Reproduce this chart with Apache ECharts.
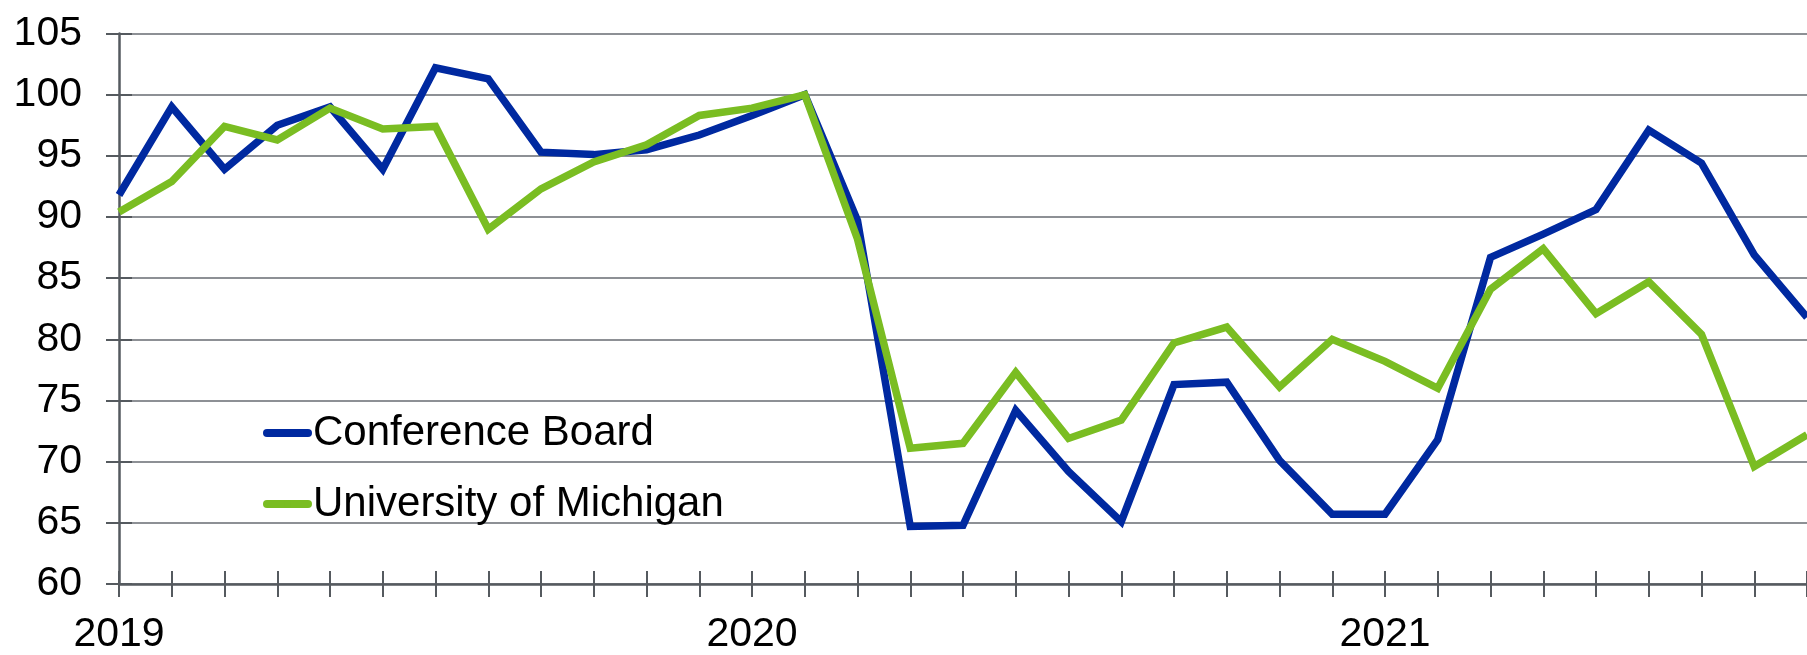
<!DOCTYPE html>
<html>
<head>
<meta charset="utf-8">
<script src="https://cdn.jsdelivr.net/npm/echarts@6/dist/echarts.min.js"></script>
<style>
  html, body { margin: 0; padding: 0; background: #fff; }
  #chart { width: 1807px; height: 655px; }
</style>
</head>
<body>
<div id="chart"></div>
<script>
// monthly index, Feb 2020 = 100
const months = [
  '2019-01', '2019-02', '2019-03', '2019-04', '2019-05', '2019-06',
  '2019-07', '2019-08', '2019-09', '2019-10', '2019-11', '2019-12',
  '2020-01', '2020-02', '2020-03', '2020-04', '2020-05', '2020-06',
  '2020-07', '2020-08', '2020-09', '2020-10', '2020-11', '2020-12',
  '2021-01', '2021-02', '2021-03', '2021-04', '2021-05', '2021-06',
  '2021-07', '2021-08', '2021-09'
];
const conferenceBoard = [
  91.8, 99.0, 93.9, 97.5, 99.0, 93.9, 102.2, 101.3, 95.3, 95.1, 95.5, 96.7,
  98.3, 100.0, 89.7, 64.7, 64.8, 74.2, 69.2, 65.1, 76.3, 76.5, 70.1, 65.7,
  65.7, 71.8, 86.7, 88.6, 90.6, 97.1, 94.4, 86.9, 81.8
];
const michigan = [
  90.4, 92.9, 97.4, 96.3, 98.9, 97.2, 97.4, 89.0, 92.3, 94.5, 95.9, 98.3,
  98.9, 100.0, 88.2, 71.1, 71.5, 77.3, 71.9, 73.4, 79.7, 81.0, 76.1, 80.0,
  78.2, 76.0, 84.1, 87.4, 82.1, 84.7, 80.4, 69.6, 72.2
];
const seriesNames = ['Conference Board', 'University of Michigan'];
const yMin = 60, yMax = 105, yStep = 5;

const font = 'Arial, "Liberation Sans", sans-serif';
const axisColor = '#555a5f';
const gridColor = '#8d9095';

const chart = echarts.init(document.getElementById('chart'));

const isYearStart = (idx, val) => val.endsWith('-01');

chart.setOption({
  animation: false,
  grid: { left: 119, right: -14, top: 33.5, bottom: 69.5, containLabel: false },
  legend: {
    orient: 'vertical',
    left: 258,
    top: 407,
    itemWidth: 41,
    itemHeight: 8,
    itemGap: 29,
    lineStyle: { width: 8, cap: 'round' },
    textStyle: { fontSize: 42, fontFamily: font, color: '#000' },
    data: seriesNames
  },
  xAxis: [{
    type: 'category',
    data: months,
    boundaryGap: false,
    axisLine: { lineStyle: { color: axisColor, width: 2.5 } },
    axisTick: { interval: 0, length: 13, lineStyle: { color: axisColor, width: 2 } },
    axisLabel: {
      interval: isYearStart,
      formatter: (v) => v.slice(0, 4),
      fontSize: 41, fontFamily: font, color: '#000', margin: 30
    },
    splitLine: { show: false }
  }, {
    type: 'category',
    data: months,
    position: 'bottom',
    boundaryGap: false,
    axisLine: { show: false },
    axisTick: { inside: true, interval: 0, length: 13, lineStyle: { color: axisColor, width: 2 } },
    axisLabel: { show: false },
    splitLine: { show: false }
  }],
  yAxis: [{
    type: 'value',
    min: yMin, max: yMax, interval: yStep,
    axisLine: { show: true, lineStyle: { color: axisColor, width: 2.5 } },
    axisTick: { show: true, length: 13, lineStyle: { color: axisColor, width: 2 } },
    axisLabel: { fontSize: 41, fontFamily: font, color: '#000', margin: 37 },
    splitLine: { lineStyle: { color: gridColor, width: 2 } }
  }, {
    type: 'value',
    position: 'left',
    min: yMin, max: yMax, interval: yStep,
    axisLine: { show: false },
    axisTick: { show: true, inside: true, length: 13, lineStyle: { color: axisColor, width: 2 } },
    axisLabel: { show: false },
    splitLine: { show: false }
  }],
  series: [{
    name: seriesNames[0],
    type: 'line',
    data: conferenceBoard,
    symbol: 'none',
    lineStyle: { color: '#0029a0', width: 7.5, join: 'miter' },
    itemStyle: { color: '#0029a0' }
  }, {
    name: seriesNames[1],
    type: 'line',
    data: michigan,
    symbol: 'none',
    lineStyle: { color: '#7abd22', width: 7.5, join: 'miter' },
    itemStyle: { color: '#7abd22' }
  }]
});
</script>
</body>
</html>
